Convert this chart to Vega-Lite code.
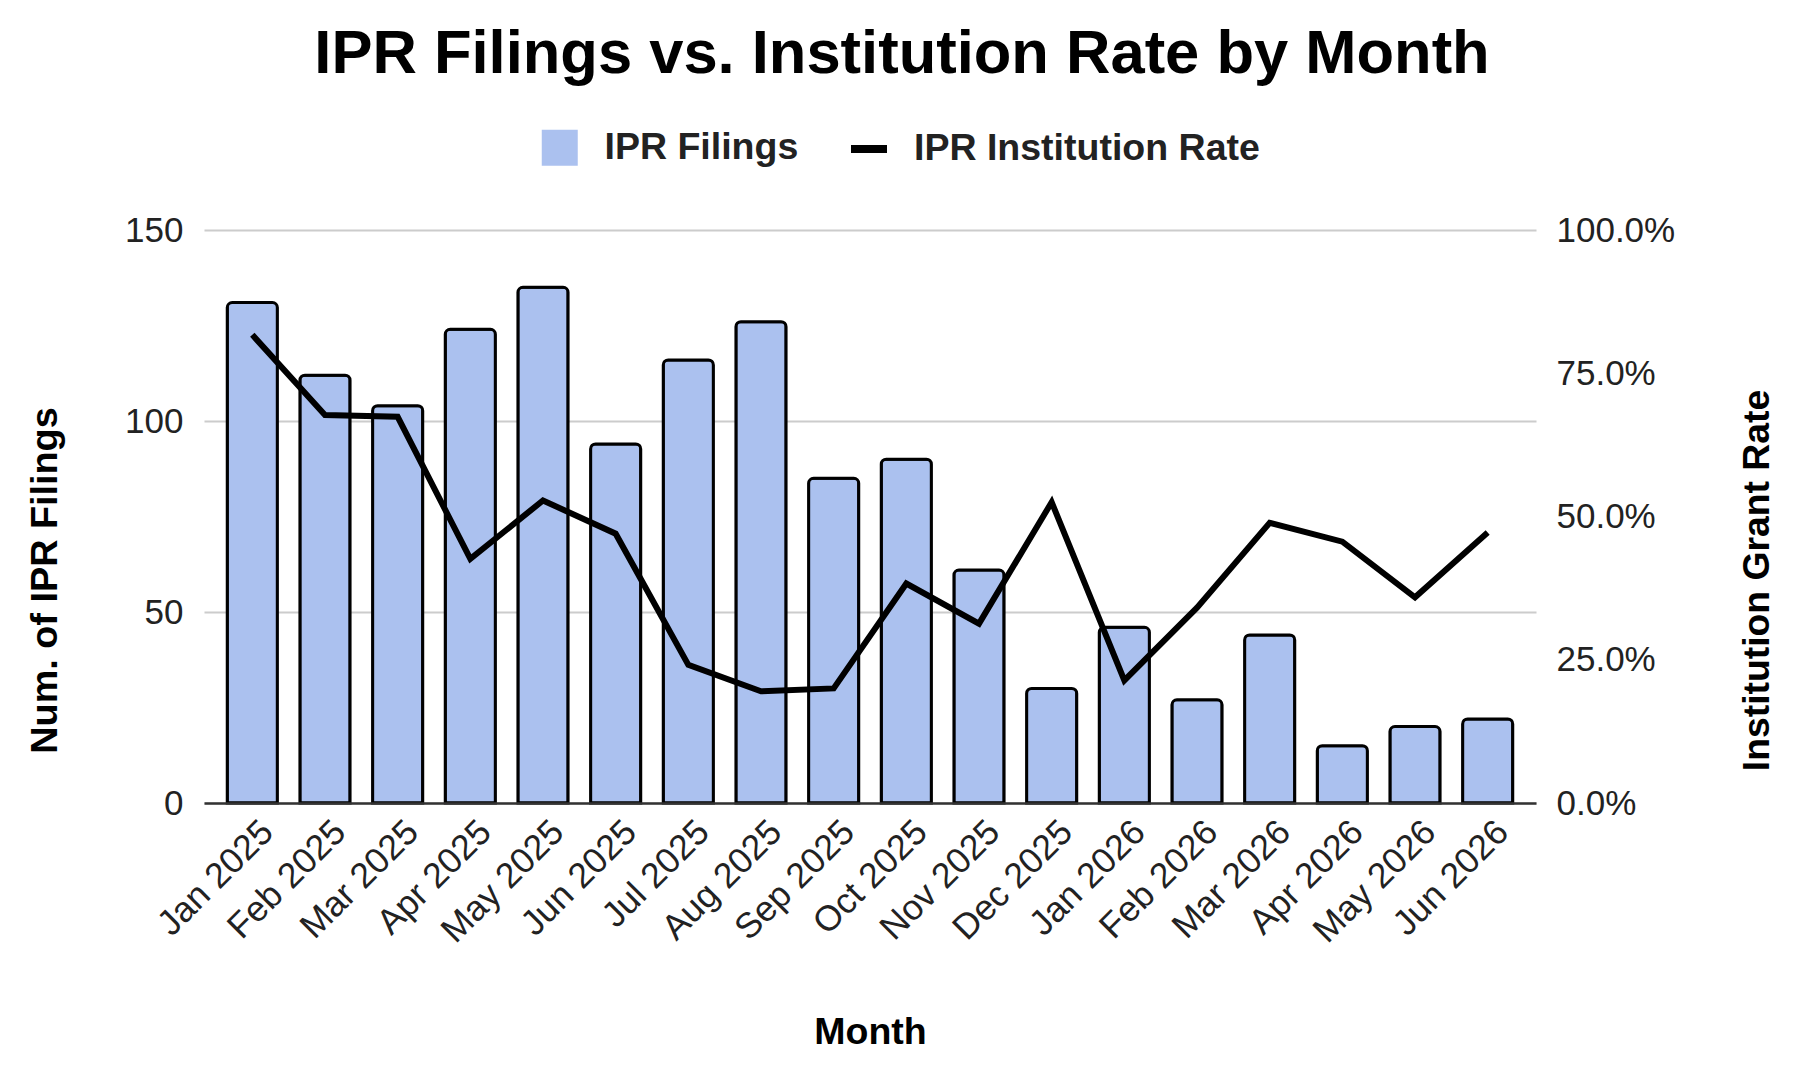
{
  "$schema": "https://vega.github.io/schema/vega-lite/v6.json",
  "autosize": {"type": "none"},
  "width": 1332,
  "height": 573,
  "padding": {"left": 204, "top": 230, "right": 278, "bottom": 269},
  "background": "white",
  "config": {
    "view": {"stroke": null},
    "font": "Liberation Sans",
    "legend": {
      "orient": "none",
      "direction": "horizontal",
      "title": null,
      "labelFont": "Liberation Sans",
      "labelFontSize": 37.5,
      "labelFontWeight": "bold",
      "labelColor": "#222222",
      "labelLimit": 800,
      "labelOffset": 26,
      "symbolSize": 1296,
      "symbolOpacity": 1
    }
  },
  "title": {
    "text": "IPR Filings vs. Institution Rate by Month",
    "font": "Liberation Sans",
    "fontSize": 61.5,
    "fontWeight": "bold",
    "color": "#000000",
    "anchor": "middle",
    "dx": 32,
    "offset": 42
  },
  "data": {
    "values": [
      {"month": "Jan 2025", "filings": 131, "rate": 0.817},
      {"month": "Feb 2025", "filings": 112, "rate": 0.677},
      {"month": "Mar 2025", "filings": 104, "rate": 0.674},
      {"month": "Apr 2025", "filings": 124, "rate": 0.426},
      {"month": "May 2025", "filings": 135, "rate": 0.528},
      {"month": "Jun 2025", "filings": 94, "rate": 0.470},
      {"month": "Jul 2025", "filings": 116, "rate": 0.241},
      {"month": "Aug 2025", "filings": 126, "rate": 0.195},
      {"month": "Sep 2025", "filings": 85, "rate": 0.200},
      {"month": "Oct 2025", "filings": 90, "rate": 0.383},
      {"month": "Nov 2025", "filings": 61, "rate": 0.313},
      {"month": "Dec 2025", "filings": 30, "rate": 0.525},
      {"month": "Jan 2026", "filings": 46, "rate": 0.214},
      {"month": "Feb 2026", "filings": 27, "rate": 0.341},
      {"month": "Mar 2026", "filings": 44, "rate": 0.489},
      {"month": "Apr 2026", "filings": 15, "rate": 0.456},
      {"month": "May 2026", "filings": 20, "rate": 0.359},
      {"month": "Jun 2026", "filings": 22, "rate": 0.472}
    ]
  },
  "encoding": {
    "x": {
      "field": "month",
      "type": "nominal",
      "sort": null,
      "scale": {"paddingInner": 0.31, "paddingOuter": 0.32},
      "axis": {
        "title": "Month",
        "titleFont": "Liberation Sans",
        "titleFontSize": 37.5,
        "titleFontWeight": "bold",
        "titleColor": "#000000",
        "titlePadding": 64,
        "labelAngle": -45,
        "labelFont": "Liberation Sans",
        "labelFontSize": 35.5,
        "labelColor": "#222222",
        "labelPadding": 11,
        "labelOffset": 3,
        "ticks": false,
        "domain": true,
        "domainColor": "#333333",
        "domainWidth": 2.5,
        "grid": false,
        "zindex": 1
      }
    }
  },
  "layer": [
    {
      "mark": {
        "type": "bar",
        "stroke": "#000000",
        "strokeWidth": 3,
        "cornerRadiusTopLeft": 5,
        "cornerRadiusTopRight": 5
      },
      "encoding": {
        "y": {
          "field": "filings",
          "type": "quantitative",
          "scale": {"domain": [0, 150], "nice": false},
          "axis": {
            "title": "Num. of IPR Filings",
            "titleFont": "Liberation Sans",
            "titleFontSize": 37.8,
            "titleFontWeight": "bold",
            "titleColor": "#000000",
            "titlePadding": 60,
            "titleY": 350,
            "values": [0, 50, 100, 150],
            "labelFont": "Liberation Sans",
            "labelFontSize": 35,
            "labelColor": "#222222",
            "labelPadding": 21,
            "ticks": false,
            "domain": false,
            "grid": true,
            "gridColor": "#cccccc",
            "gridWidth": 2
          }
        },
        "fill": {
          "datum": "IPR Filings",
          "scale": {"range": ["#abc1ef"]},
          "legend": {
            "legendX": 337,
            "legendY": -101,
            "symbolType": "square",
            "symbolStrokeWidth": 0,
            "symbolStrokeColor": "transparent"
          }
        }
      }
    },
    {
      "mark": {"type": "line", "strokeWidth": 6, "strokeJoin": "miter"},
      "encoding": {
        "y": {
          "field": "rate",
          "type": "quantitative",
          "scale": {"domain": [0, 1], "nice": false},
          "axis": {
            "orient": "right",
            "title": "Institution Grant Rate",
            "titleFont": "Liberation Sans",
            "titleFontSize": 37.3,
            "titleFontWeight": "bold",
            "titleColor": "#000000",
            "titleAngle": -90,
            "titlePadding": 102,
            "titleY": 350,
            "format": ".1%",
            "values": [0, 0.25, 0.5, 0.75, 1],
            "labelFont": "Liberation Sans",
            "labelFontSize": 35,
            "labelColor": "#222222",
            "labelPadding": 20,
            "ticks": false,
            "domain": false,
            "grid": false
          }
        },
        "stroke": {
          "datum": "IPR Institution Rate",
          "scale": {"range": ["#000000"]},
          "legend": {
            "legendX": 643,
            "legendY": -103,
            "labelOffset": 23,
            "symbolType": "stroke",
            "symbolStrokeWidth": 8
          }
        }
      }
    }
  ],
  "resolve": {"scale": {"y": "independent"}}
}
